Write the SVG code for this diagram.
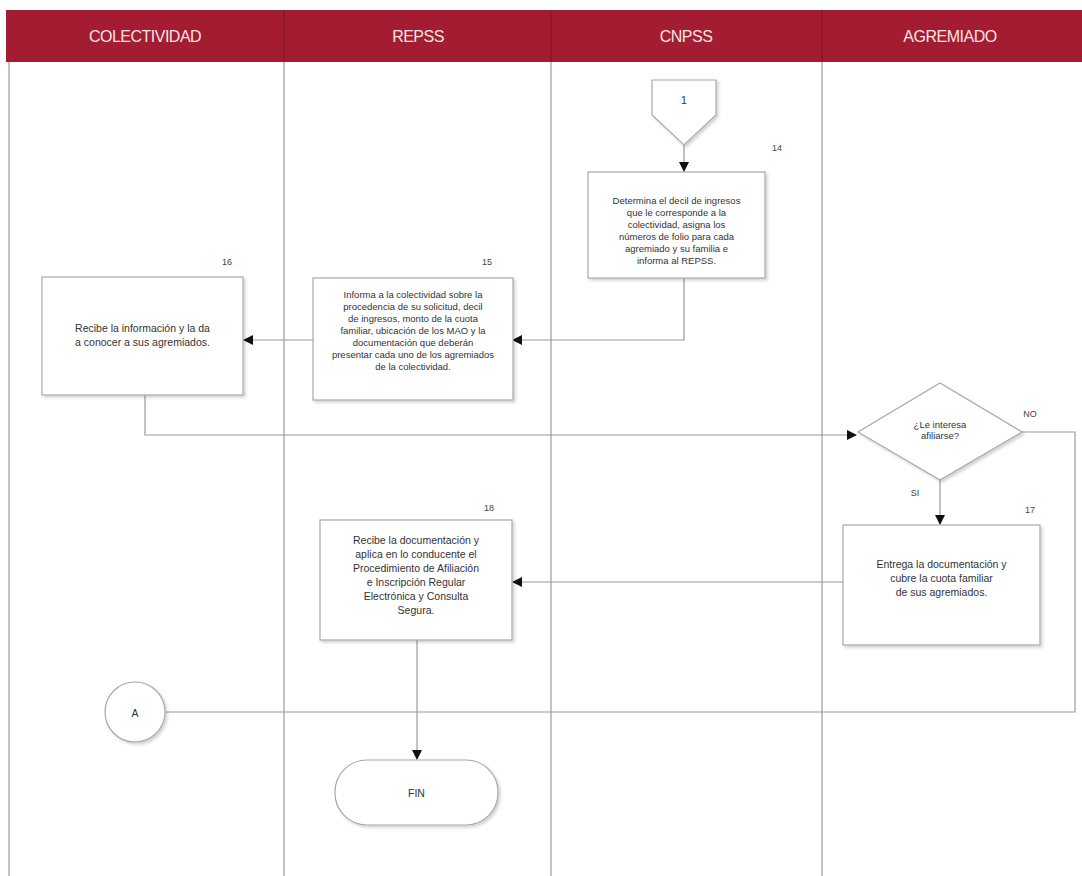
<svg xmlns="http://www.w3.org/2000/svg" width="1082" height="876" viewBox="0 0 1082 876">
<defs>
<marker id="ah" markerWidth="10" markerHeight="10" refX="9" refY="5" orient="auto" markerUnits="userSpaceOnUse">
<path d="M0,0 L10,5 L0,10 z" fill="#111"/>
</marker>
<filter id="sh" x="-10%" y="-10%" width="130%" height="130%">
<feDropShadow dx="2" dy="2" stdDeviation="1.5" flood-color="#000" flood-opacity="0.18"/>
</filter>
</defs>
<style>
.hdr{font-family:"Liberation Sans",Arial,sans-serif;font-size:16px;fill:#f6e4e6;text-anchor:middle;letter-spacing:-0.5px}
.lane{stroke:#888;stroke-width:1;fill:none}
.box{fill:#fff;stroke:#a8a8a8;stroke-width:1.2;filter:url(#sh)}
.t{font-family:"Liberation Sans",Arial,sans-serif;font-size:10.5px;fill:#333;text-anchor:middle}
.ts{font-family:"Liberation Sans",Arial,sans-serif;font-size:9.5px;fill:#333;text-anchor:middle}
.num{font-family:"Liberation Sans",Arial,sans-serif;font-size:9px;fill:#444;text-anchor:middle}
.c{stroke:#999;stroke-width:1.2;fill:none}
</style>
<rect x="0" y="0" width="1082" height="876" fill="#fff"/>
<g id="header">
<rect x="6" y="10" width="1076" height="52" fill="#a31c31"/>
<line x1="284" y1="10" x2="284" y2="62" stroke="#7e1426"/>
<line x1="551" y1="10" x2="551" y2="62" stroke="#7e1426"/>
<line x1="822" y1="10" x2="822" y2="62" stroke="#7e1426"/>
<text class="hdr" x="145" y="42">COLECTIVIDAD</text>
<text class="hdr" x="418" y="42">REPSS</text>
<text class="hdr" x="686" y="42">CNPSS</text>
<text class="hdr" x="950" y="42">AGREMIADO</text>
</g>
<g id="lanes">
<line class="lane" x1="9" y1="62" x2="9" y2="876" stroke="#ccc"/>
<line class="lane" x1="284" y1="62" x2="284" y2="876"/>
<line class="lane" x1="551" y1="62" x2="551" y2="876"/>
<line class="lane" x1="822" y1="62" x2="822" y2="876"/>
</g>
<g id="connectors">
<line class="c" x1="684" y1="145" x2="684" y2="171" marker-end="url(#ah)"/>
<polyline class="c" points="684,278 684,340 513,340" marker-end="url(#ah)"/>
<line class="c" x1="313" y1="340" x2="244" y2="340" marker-end="url(#ah)"/>
<polyline class="c" points="145,395 145,435 856,435" marker-end="url(#ah)"/>
<polyline class="c" points="1022,432 1075,432 1075,712 166,712"/>
<line class="c" x1="940" y1="480" x2="940" y2="524" marker-end="url(#ah)"/>
<line class="c" x1="843" y1="582" x2="513" y2="582" marker-end="url(#ah)"/>
<line class="c" x1="417" y1="640" x2="417" y2="759" marker-end="url(#ah)"/>
<text class="num" x="1030" y="417" font-size="10">NO</text>
<text class="num" x="915" y="496" font-size="10">SI</text>
</g>
<g id="n1">
<path class="box" d="M652,80 L716,80 L716,115 L684,145 L652,115 z"/>
<text class="t" x="684" y="104">1</text>
</g>
<g id="n14">
<rect class="box" x="588" y="172" width="177" height="106"/>
<text class="num" x="777" y="151">14</text>
<text class="ts" x="676.5" y="204">Determina el decil de ingresos</text>
<text class="ts" x="676.5" y="216">que le corresponde a la</text>
<text class="ts" x="676.5" y="228">colectividad, asigna los</text>
<text class="ts" x="676.5" y="240">números de folio para cada</text>
<text class="ts" x="676.5" y="252">agremiado y su familia e</text>
<text class="ts" x="676.5" y="264">informa al REPSS.</text>
</g>
<g id="n15">
<rect class="box" x="313" y="278" width="200" height="122"/>
<text class="num" x="487" y="265">15</text>
<text class="ts" x="413" y="298" font-size="8">Informa a la colectividad sobre la</text>
<text class="ts" x="413" y="310" font-size="8">procedencia de su solicitud, decil</text>
<text class="ts" x="413" y="322" font-size="8">de ingresos, monto de la cuota</text>
<text class="ts" x="413" y="334" font-size="8">familiar, ubicación de los MAO y la</text>
<text class="ts" x="413" y="346" font-size="8">documentación que deberán</text>
<text class="ts" x="413" y="358" font-size="8">presentar cada uno de los agremiados</text>
<text class="ts" x="413" y="370" font-size="8">de la colectividad.</text>
</g>
<g id="n16">
<rect class="box" x="42" y="277" width="201" height="118"/>
<text class="num" x="227" y="265">16</text>
<text class="t" x="142.5" y="332">Recibe la información y la da</text>
<text class="t" x="142.5" y="346">a conocer a sus agremiados.</text>
</g>
<g id="d1">
<path class="box" d="M940,383 L1022,432 L940,480 L858,432 z"/>
<text class="ts" x="940" y="428" font-size="8.5">¿Le interesa</text>
<text class="ts" x="940" y="439" font-size="8.5">afiliarse?</text>
</g>
<g id="n17">
<rect class="box" x="843" y="525" width="197" height="120"/>
<text class="num" x="1030" y="513">17</text>
<text class="t" x="941.5" y="568">Entrega la documentación y</text>
<text class="t" x="941.5" y="582">cubre la cuota familiar</text>
<text class="t" x="941.5" y="596">de sus agremiados.</text>
</g>
<g id="n18">
<rect class="box" x="320" y="520" width="192" height="120"/>
<text class="num" x="489" y="511">18</text>
<text class="t" x="416" y="544">Recibe la documentación y</text>
<text class="t" x="416" y="558">aplica en lo conducente el</text>
<text class="t" x="416" y="572">Procedimiento de Afiliación</text>
<text class="t" x="416" y="586">e Inscripción Regular</text>
<text class="t" x="416" y="600">Electrónica y Consulta</text>
<text class="t" x="416" y="614">Segura.</text>
</g>
<g id="nA">
<circle class="box" cx="135" cy="712" r="30"/>
<text class="t" x="135" y="717" font-size="13">A</text>
</g>
<g id="fin">
<rect class="box" x="335" y="760" width="163" height="65" rx="32" ry="32"/>
<text class="t" x="416.5" y="797">FIN</text>
</g>
</svg>
